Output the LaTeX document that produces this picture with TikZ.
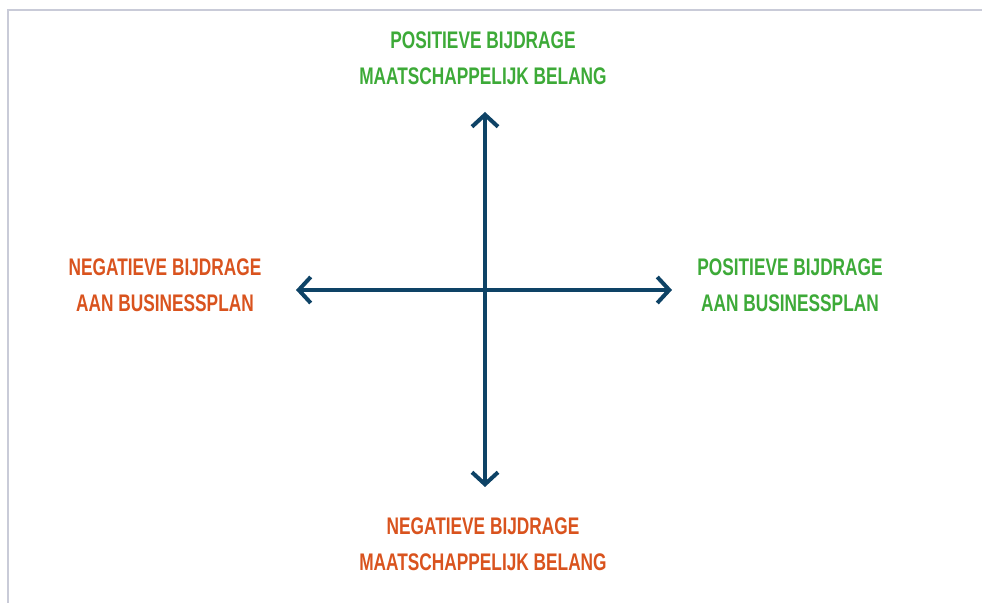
\documentclass[tikz,border=0pt]{standalone}
\usepackage{fontspec}
\setmainfont{Liberation Sans}[FakeStretch=0.72]
\usepackage{tikz}
\usetikzlibrary{arrows.meta}
\definecolor{axisblue}{HTML}{0E4366}
\definecolor{posgreen}{HTML}{3DAA38}
\definecolor{neggold}{HTML}{D9531E}
\definecolor{framegrey}{HTML}{C9CBD8}
\tikzstyle{Axis}=[axisblue,line width=2pt,{Straight Barb[length=6pt,width=13pt]}-{Straight Barb[length=6pt,width=13pt]}]
\tikzstyle{Pos}=[posgreen,font=\bfseries\fontsize{12}{18}\selectfont,align=center]
\tikzstyle{Neg}=[neggold,font=\bfseries\fontsize{12}{18}\selectfont,align=center]

\begin{document}
\begin{tikzpicture}[x=0.5pt,y=-0.5pt]

\useasboundingbox (0,0) rectangle (982,603);
\draw[framegrey,line width=1pt] (8,603) -- (8,10) -- (982,10);

\coordinate (top) at (485,112);
\coordinate (bottom) at (485,487);
\coordinate (left) at (296,290);
\coordinate (right) at (672,290);

\draw[Axis] (bottom) -- (top);
\draw[Axis] (left) -- (right);

\node[Pos] (maatpos) at (483,58) {POSITIEVE BIJDRAGE\\MAATSCHAPPELIJK BELANG};
\node[Neg] (maatneg) at (483,544) {NEGATIEVE BIJDRAGE\\MAATSCHAPPELIJK BELANG};
\node[Neg] (busneg) at (165,285) {NEGATIEVE BIJDRAGE\\AAN BUSINESSPLAN};
\node[Pos] (buspos) at (790,285) {POSITIEVE BIJDRAGE\\AAN BUSINESSPLAN};

\end{tikzpicture}
\end{document}
